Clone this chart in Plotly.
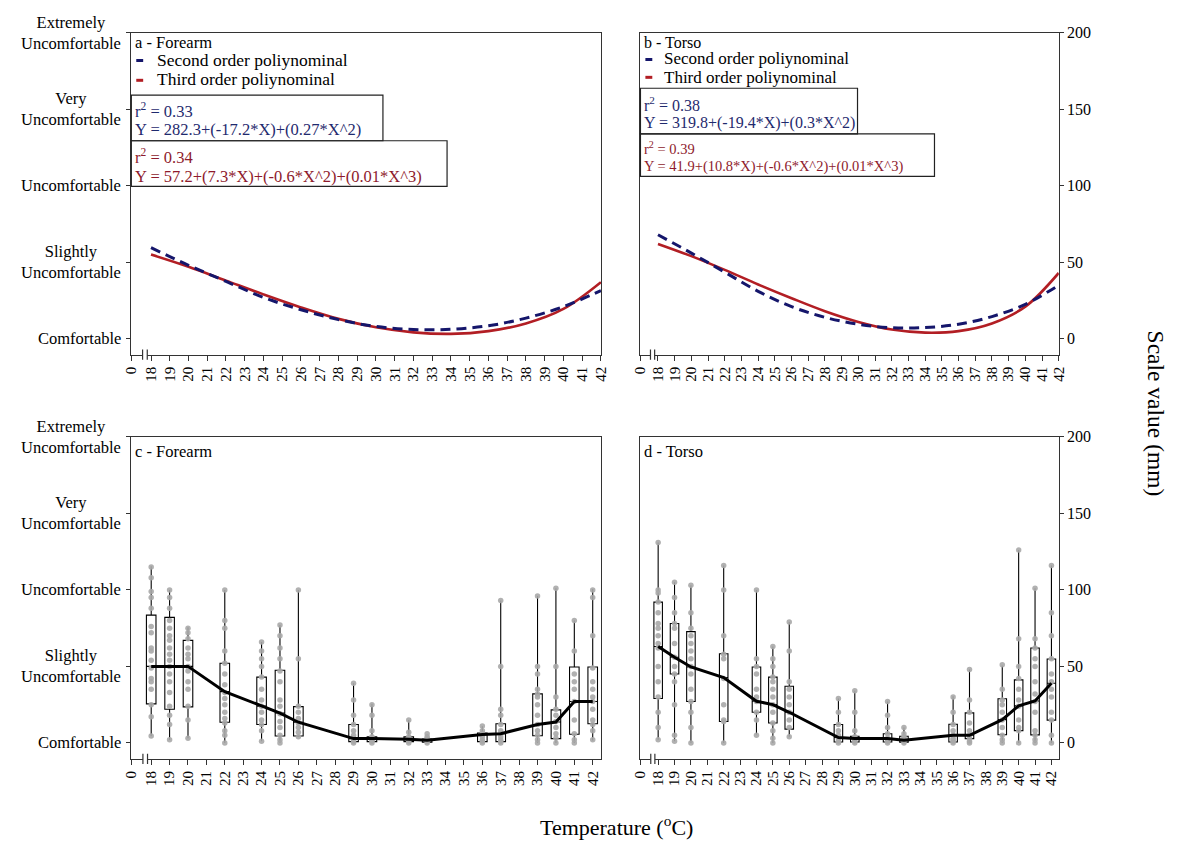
import plotly.graph_objects as go

W, H = 1200, 841
FONT = "Liberation Serif, Times New Roman, serif"

# ---------------- data ----------------
axis_temps = list(range(18, 43))
X0_TOP = 16.95     # position of the broken-axis "0" label, panels a/b
X0_BOT = 16.92     # panels c/d
X1_TOP = 42.005
X1_BOT = 42.45
x_ticktext = ["0"] + [str(t) for t in axis_temps]

y_tickvals = [0, 50, 100, 150, 200]
y_left_text = ["Comfortable", "Slightly<br>Uncomfortable", "Uncomfortable",
               "Very<br>Uncomfortable", "Extremely<br>Uncomfortable"]
y_right_text = ["0", "50", "100", "150", "200"]

# fitted curves (panels a and b)
fit_temps = [18, 20, 22, 24, 26, 28, 30, 32, 34, 36, 38, 40, 42]
a_second = [59.5, 48.0, 37.5, 27.0, 19.0, 12.5, 8.0, 6.0, 6.2, 8.5, 13.5, 21.0, 31.5]
a_third = [55.0, 47.0, 38.0, 29.0, 20.5, 13.0, 7.5, 4.2, 3.2, 5.0, 10.0, 19.5, 37.0]
b_second = [68.0, 56.0, 43.5, 31.0, 21.0, 14.0, 9.5, 7.2, 7.3, 9.5, 14.5, 22.5, 35.0]
b_third = [62.0, 54.0, 45.0, 35.5, 26.5, 18.0, 11.0, 6.0, 4.0, 5.0, 10.0, 21.0, 43.0]

# box plots (panels c and d)
box_temps = [18, 19, 20, 22, 24, 25, 26, 29, 30, 32, 33, 36, 37, 39, 40, 41, 42]

c_min = [4.5, 2, 3, 0, 1, 0, 4, 0, 0, 0, 0, 0, 0, 0, 0, 0, 1.5]
c_q1 = [25.5, 22, 23.5, 13.5, 12, 4.5, 4.5, 0.8, 0.8, 0.8, 0.5, 0.8, 0.8, 4.7, 2.8, 5.6, 12.5]
c_med = [50, 50, 50, 33.5, 24, 19.5, 13.5, 2.8, 2.8, 2.4, 1.7, 5.4, 6, 12, 13.6, 27, 27]
c_q3 = [83.5, 82, 67, 52, 43, 47.5, 23.7, 12, 3.9, 3.9, 2.5, 6.5, 12.5, 32, 21.6, 49.6, 49.6]
c_max = [115.5, 100, 75.5, 100, 66, 77, 100, 39, 25.5, 15, 5.6, 10.8, 93, 96, 101, 80, 100.5]

d_min = [2, 1, 0, 0, 5.4, 0, 4, 0, 0, 0, 0, 0, 0, 0, 0, 0, 0]
d_q1 = [29, 45, 27, 14, 20, 13, 9, 0.6, 0.6, 0.6, 0.5, 0.6, 2.8, 5.3, 8, 5.2, 14.9]
d_med = [63, 56, 49.6, 42.7, 27.2, 25, 20, 3.5, 2.8, 2.8, 1.7, 5, 5, 15.2, 24.2, 27.4, 39]
d_q3 = [92, 78, 72.7, 58.3, 49.6, 43, 37, 12, 4.3, 6, 4.3, 12.2, 19.6, 28.8, 41.2, 62, 54.8]
d_max = [131, 105, 103, 116, 100, 63, 79, 29, 34, 27, 10, 30.4, 48, 50.6, 126, 101, 116]

c_points = {
    18: [115, 108, 99, 95, 88, 76, 72, 62, 60, 54, 49, 42, 40, 35, 25, 17, 4.5],
    19: [100, 95, 88, 80, 75, 70, 67, 62, 58, 54, 50, 45, 40, 33, 24, 18, 12, 2],
    20: [75, 72, 68, 62, 58, 55, 50, 47, 40, 35, 24, 15, 3],
    22: [100, 80, 75, 60, 52, 45, 38, 33, 29, 25, 20, 16, 13, 8, 5, 0],
    24: [66, 60, 55, 50, 43, 35, 28, 24, 20, 15, 12, 8, 1],
    25: [77, 70, 62, 55, 47, 40, 28, 24, 19, 14, 10, 5, 2, 0],
    26: [100, 55, 24, 20, 16, 13, 10, 7, 4],
    29: [39, 28, 18, 12, 8, 5, 3, 2, 1, 0],
    30: [25, 18, 8, 4, 3, 2, 1, 0],
    32: [15, 7, 4, 3, 2, 1, 0],
    33: [6, 4, 3, 2, 1, 0],
    36: [11, 8, 6, 5, 4, 2, 1, 0],
    37: [93, 50, 22, 18, 12, 8, 6, 4, 2, 1, 0],
    39: [96, 50, 45, 35, 32, 30, 25, 18, 12, 8, 5, 2, 0],
    40: [101, 50, 30, 22, 18, 14, 10, 6, 3, 0],
    41: [80, 60, 45, 40, 35, 27, 15, 6, 2, 0],
    42: [100, 95, 70, 49, 40, 35, 30, 27, 22, 15, 12, 8, 2],
}
d_points = {
    18: [131, 100, 98, 92, 85, 78, 75, 70, 65, 62, 50, 40, 30, 20, 10, 2],
    19: [105, 95, 85, 78, 75, 65, 56, 50, 45, 40, 25, 5, 1],
    20: [103, 85, 75, 70, 65, 60, 55, 50, 45, 35, 27, 20, 10, 0],
    22: [116, 100, 70, 58, 55, 42, 25, 15, 14, 0],
    24: [100, 55, 50, 45, 35, 30, 27, 20, 15, 5],
    25: [63, 55, 50, 43, 40, 35, 30, 25, 20, 13, 8, 3, 0],
    26: [79, 60, 40, 35, 30, 25, 20, 15, 10, 4],
    29: [29, 20, 12, 8, 5, 3, 1, 0],
    30: [34, 20, 8, 4, 3, 2, 1, 0],
    32: [27, 18, 10, 6, 3, 2, 1, 0],
    33: [10, 6, 4, 3, 2, 1, 0],
    36: [30, 20, 12, 8, 5, 3, 2, 1, 0],
    37: [48, 28, 20, 13, 8, 5, 3, 1, 0],
    39: [51, 35, 28, 25, 20, 15, 10, 5, 2, 0],
    40: [126, 68, 50, 42, 35, 28, 24, 15, 10, 8, 0],
    41: [101, 68, 62, 55, 50, 40, 32, 27, 20, 8, 5, 2, 0],
    42: [116, 85, 70, 55, 45, 40, 35, 30, 20, 15, 5, 0],
}

eq_a2 = ["r<sup>2</sup> = 0.33", "Y = 282.3+(-17.2*X)+(0.27*X^2)"]
eq_a3 = ["r<sup>2</sup> = 0.34", "Y = 57.2+(7.3*X)+(-0.6*X^2)+(0.01*X^3)"]
eq_b2 = ["r<sup>2</sup> = 0.38", "Y = 319.8+(-19.4*X)+(0.3*X^2)"]
eq_b3 = ["r<sup>2</sup> = 0.39", "Y = 41.9+(10.8*X)+(-0.6*X^2)+(0.01*X^3)"]

# ---------------- styles ----------------
NAVY = "#15166b"
RED = "#b21e24"
NAVY_TXT = "#1f2a6e"
RED_TXT = "#8e1a2c"
AX = "#333333"
DOT = "#a8a8a8"


def px(x):
    return x / W


def py(y):
    return 1 - y / H


fig = go.Figure()

# panel a / b fitted curves
for xa, ya, s2, s3 in [("x", "y", a_second, a_third), ("x2", "y2", b_second, b_third)]:
    fig.add_trace(go.Scatter(x=fit_temps, y=s3, mode="lines", line=dict(color=RED, width=2.6, shape="spline"),
                             xaxis=xa, yaxis=ya, showlegend=False))
    fig.add_trace(go.Scatter(x=fit_temps, y=s2, mode="lines",
                             line=dict(color=NAVY, width=3, dash="10px,6px", shape="spline"),
                             xaxis=xa, yaxis=ya, showlegend=False))

# panel c / d boxes
for xa, ya, mn, q1, md, q3, mx, pts in [("x3", "y3", c_min, c_q1, c_med, c_q3, c_max, c_points),
                                        ("x4", "y4", d_min, d_q1, d_med, d_q3, d_max, d_points)]:
    fig.add_trace(go.Box(x=box_temps, q1=q1, median=md, q3=q3, lowerfence=mn, upperfence=mx,
                         width=0.52, whiskerwidth=0, boxpoints=False, fillcolor="white",
                         line=dict(color="black", width=1.1), xaxis=xa, yaxis=ya, showlegend=False))
    px_list, py_list = [], []
    for t in box_temps:
        for v in pts[t]:
            px_list.append(t)
            py_list.append(v)
    fig.add_trace(go.Scatter(x=px_list, y=py_list, mode="markers",
                             marker=dict(color=DOT, size=5.5, opacity=0.9),
                             xaxis=xa, yaxis=ya, showlegend=False))
    fig.add_trace(go.Scatter(x=box_temps, y=md, mode="lines", line=dict(color="black", width=3),
                             xaxis=xa, yaxis=ya, showlegend=False))

# ---------------- axes ----------------
left_dom = [px(125), px(601)]
right_dom = [px(641), px(1065)]
top_dom = [py(350), py(25)]
bot_dom = [py(758), py(433)]


def xaxis_cfg(x0, x1):
    return dict(range=[x0, x1], tickvals=[x0 + 0.001] + axis_temps, ticktext=x_ticktext, tickangle=-90,
                ticks="outside", ticklen=5, tickcolor=AX, showline=True, linecolor=AX, linewidth=1.2,
                mirror=True, showgrid=False, zeroline=False,
                tickfont=dict(family=FONT, size=15, color="black"))


ycommon = dict(range=[-10.4, 200], tickvals=y_tickvals, ticks="outside", ticklen=4, tickcolor=AX,
               showline=True, linecolor=AX, linewidth=1.2, mirror=True, showgrid=False, zeroline=False,
               tickfont=dict(family=FONT, size=16, color="black"))

fig.update_layout(
    xaxis=dict(domain=left_dom, anchor="y", **xaxis_cfg(X0_TOP, X1_TOP)),
    xaxis2=dict(domain=right_dom, anchor="y2", **xaxis_cfg(X0_TOP, X1_TOP)),
    xaxis3=dict(domain=left_dom, anchor="y3", **xaxis_cfg(X0_BOT, X1_BOT)),
    xaxis4=dict(domain=right_dom, anchor="y4", **xaxis_cfg(X0_BOT, X1_BOT)),
    yaxis=dict(domain=top_dom, anchor="x", side="left", showticklabels=False, **ycommon),
    yaxis2=dict(domain=top_dom, anchor="x2", side="right", ticktext=y_right_text, **ycommon),
    yaxis3=dict(domain=bot_dom, anchor="x3", side="left", showticklabels=False, **ycommon),
    yaxis4=dict(domain=bot_dom, anchor="x4", side="right", ticktext=y_right_text, **ycommon),
    width=W, height=H, margin=dict(l=0, r=0, t=0, b=0),
    paper_bgcolor="white", plot_bgcolor="white",
    font=dict(family=FONT, color="black"),
    showlegend=False,
)

ann = []
shapes = []

# left categorical labels
for ya in ["y", "y3"]:
    for v, txt in zip(y_tickvals, y_left_text):
        ann.append(dict(x=px(117), xref="paper", y=v, yref=ya, text=txt, showarrow=False,
                        xanchor="right", yanchor="middle", align="center",
                        font=dict(family=FONT, size=16.5, color="black")))

# axis break marks on every x axis
for xa, ya in [("x", "y"), ("x2", "y2"), ("x3", "y3"), ("x4", "y4")]:
    shapes.append(dict(type="rect", xref=xa, yref=ya + " domain", x0=17.55, x1=17.8, y0=-0.012, y1=0.012,
                       fillcolor="white", line=dict(width=0), layer="above"))
    for xb in [17.55, 17.8]:
        shapes.append(dict(type="line", xref=xa, yref=ya + " domain", x0=xb, x1=xb, y0=-0.016, y1=0.016,
                           line=dict(color=AX, width=1.2), layer="above"))


def text(x, y, t, size=17, color="black"):
    ann.append(dict(x=px(x), y=py(y), xref="paper", yref="paper", text=t, showarrow=False,
                    xanchor="left", yanchor="middle", align="left",
                    font=dict(family=FONT, size=size, color=color)))


def box(x0, y0, x1, y1):
    shapes.append(dict(type="rect", xref="paper", yref="paper", x0=px(x0), x1=px(x1), y0=py(y1), y1=py(y0),
                       line=dict(color="#222222", width=1.2), fillcolor="rgba(0,0,0,0)", layer="above"))


def marker(x, y, color):
    shapes.append(dict(type="line", xref="paper", yref="paper", x0=px(x), x1=px(x + 7), y0=py(y), y1=py(y),
                       line=dict(color=color, width=3), layer="above"))


# panel a legend and equations
text(127, 35, "a - Forearm", 16.5)
marker(130, 53, NAVY)
marker(130, 73, RED)
text(149, 52, "Second order poliynominal", 17.5)
text(149, 72, "Third order poliynominal", 17.5)
box(125, 88, 380, 134)
text(127, 103, eq_a2[0], 16.5, NAVY_TXT)
text(127, 123, eq_a2[1], 16.5, NAVY_TXT)
box(125, 134, 445, 180)
text(127, 150, eq_a3[0], 16.5, RED_TXT)
text(127, 170, eq_a3[1], 16.5, RED_TXT)

# panel b legend and equations
text(643, 35, "b - Torso", 16)
marker(646, 52, NAVY)
marker(646, 70, RED)
text(663, 51, "Second order poliynominal", 17)
text(663, 70, "Third order poliynominal", 17)
box(641, 81, 861, 127)
text(643, 97, eq_b2[0], 16, NAVY_TXT)
text(643, 116, eq_b2[1], 16, NAVY_TXT)
box(641, 127, 939, 170)
text(643, 141, eq_b3[0], 14.5, RED_TXT)
text(643, 160, eq_b3[1], 14.5, RED_TXT)

# panels c / d titles
text(127, 448, "c - Forearm", 16.5)
text(643, 448, "d - Torso", 16.5)

# axis titles
ann.append(dict(x=px(1163), y=py(410), xref="paper", yref="paper", text="Scale value (mm)",
                showarrow=False, textangle=90, xanchor="center", yanchor="middle",
                font=dict(family=FONT, size=23.5, color="black")))
ann.append(dict(x=px(617), y=py(826), xref="paper", yref="paper", text="Temperature (<sup>o</sup>C)",
                showarrow=False, xanchor="center", yanchor="middle",
                font=dict(family=FONT, size=22, color="black")))

fig.update_layout(annotations=ann, shapes=shapes)
fig.write_html("out.html")
